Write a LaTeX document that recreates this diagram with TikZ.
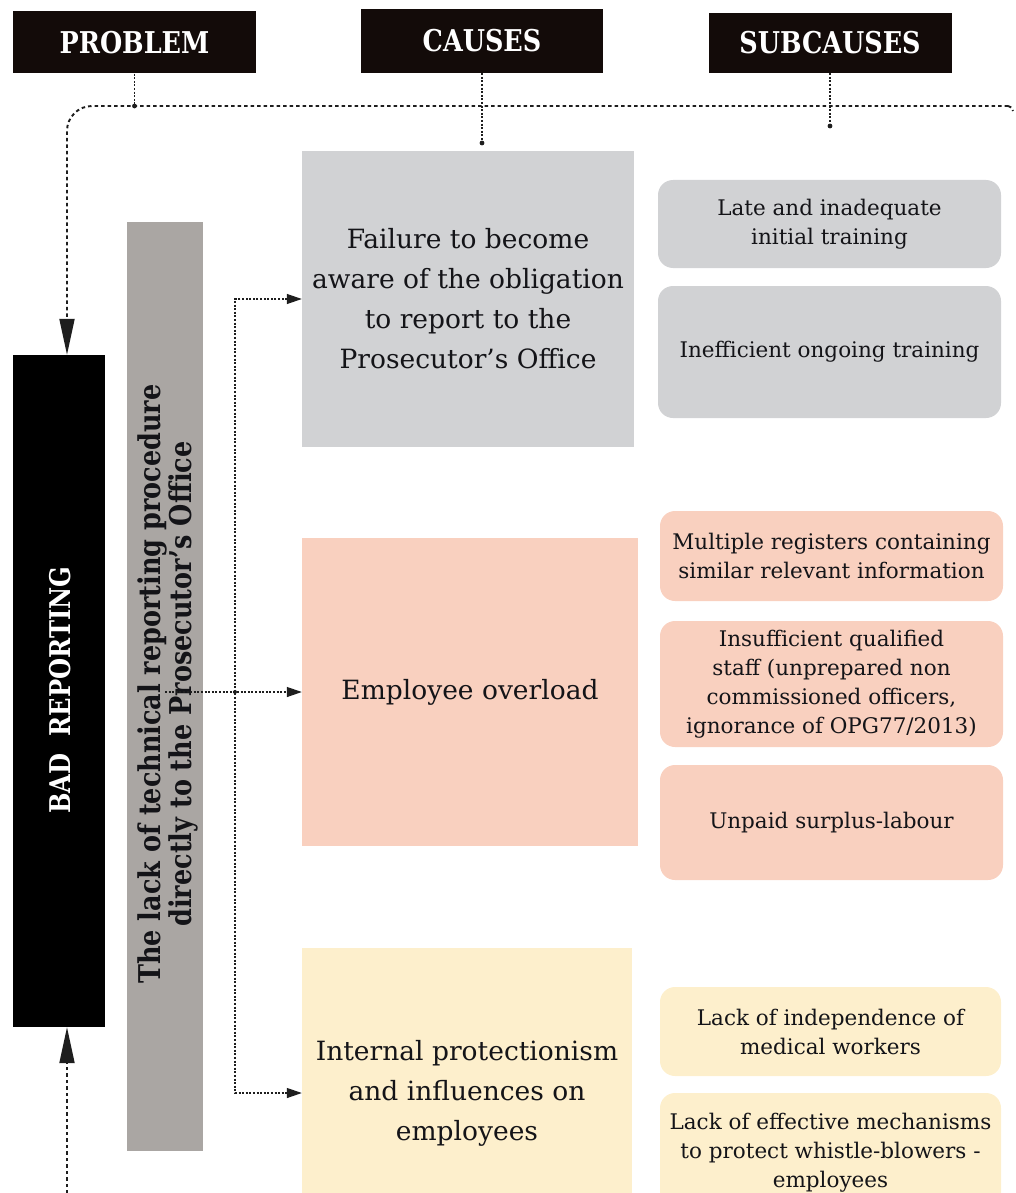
\documentclass[tikz,border=0pt]{standalone}
\usepackage{fontspec}
\setmainfont{DejaVu Serif}
\newfontfamily\hdr{DejaVu Serif}[FakeStretch=0.85]
\usetikzlibrary{arrows.meta}
\definecolor{hdrblack}{HTML}{130B09}
\definecolor{causegray}{HTML}{D1D2D4}
\definecolor{salmonc}{HTML}{F9D0BF}
\definecolor{yellowc}{HTML}{FDEFCC}
\definecolor{lackgray}{HTML}{AAA6A3}
\definecolor{txt}{HTML}{141418}
\definecolor{linec}{HTML}{1E1E1E}
\tikzset{
  smalltip/.tip={Triangle[length=15pt,width=10pt]},
  bigtip/.tip={Triangle[length=36pt,width=15pt]},
}
\begin{document}
\begin{tikzpicture}[x=1pt,y=-1pt,
  hbox/.style={fill=hdrblack,text=white,inner sep=0pt,font=\hdr\bfseries\fontsize{30}{30}\selectfont},
  causebox/.style={inner sep=0pt,text=txt,align=center,font=\fontsize{26.5}{40}\selectfont},
  subbox/.style={inner sep=0pt,rounded corners=15pt,text=txt,align=center,font=\fontsize{21.5}{29}\selectfont},
  dl/.style={linec,line width=1.9pt,dash pattern=on 3.5pt off 3pt},
  cl/.style={linec,line width=1.2pt,dash pattern=on 2pt off 1.6pt},
]
\useasboundingbox (0,0) rectangle (1015,1193);
\clip (0,0) rectangle (1015,1193);

% headers
\node[hbox,minimum width=243pt,minimum height=62pt] (problem) at (134.5,42.5) {PROBLEM};
\node[hbox,minimum width=242pt,minimum height=64pt] (causes) at (482,41) {CAUSES};
\node[hbox,minimum width=243pt,minimum height=60pt] (subc) at (830,43) {SUBCAUSES};

% problem column
\node[fill=black,minimum width=92pt,minimum height=672pt,inner sep=0pt] (bad) at (59,691) {};
\node[rotate=90,text=white,font=\hdr\bfseries\fontsize{28.5}{30}\selectfont] (badtxt) at (60,690) {BAD\ \ REPORTING};

\node[fill=lackgray,minimum width=76pt,minimum height=929pt,inner sep=0pt] (lack) at (165,686.5) {};
\node[rotate=90,text=txt,align=center,font=\hdr\bfseries\fontsize{30}{30.5}\selectfont] (lacktxt) at (168,684)
  {The lack of technical reporting procedure\\directly to the Prosecutor’s Office};

% causes
\node[causebox,fill=causegray,minimum width=332pt,minimum height=296pt] (fail) at (468,299)
  {Failure to become\\aware of the obligation\\to report to the\\Prosecutor’s Office};
\node[causebox,fill=salmonc,minimum width=336pt,minimum height=308pt] (over) at (470,692)
  {Employee overload};
\node[causebox,fill=yellowc,minimum width=330pt,minimum height=290pt] (intp) at (467,1093)
  {Internal protectionism\\and influences on\\employees};

% subcauses
\node[subbox,fill=causegray,minimum width=343pt,minimum height=88pt] (s1) at (829.5,224)
  {Late and inadequate\\initial training};
\node[subbox,fill=causegray,minimum width=343pt,minimum height=132pt] (s2) at (829.5,352)
  {Inefficient ongoing training};
\node[subbox,fill=salmonc,minimum width=343pt,minimum height=90pt] (s3) at (831.5,556)
  {Multiple registers containing\\similar relevant information};
\node[subbox,fill=salmonc,minimum width=343pt,minimum height=126pt] (s4) at (831.5,684)
  {Insufficient qualified\\staff (unprepared non\\commissioned officers,\\ignorance of OPG77/2013)};
\node[subbox,fill=salmonc,minimum width=343pt,minimum height=115pt] (s5) at (831.5,822.5)
  {Unpaid surplus-labour};
\node[subbox,fill=yellowc,minimum width=341pt,minimum height=89pt] (s6) at (830.5,1031.5)
  {Lack of independence of\\medical workers};
\node[subbox,fill=yellowc,minimum width=341pt,minimum height=120pt] (s7) at (830.5,1153)
  {Lack of effective mechanisms\\to protect whistle-blowers -\\employees};

% coordinates
\coordinate (top) at (0,106);
\coordinate (lx) at (67,0);
\coordinate (rx) at (1008,106);
\coordinate (rend) at (1013,111);
\coordinate (bl) at (67,1200);
\coordinate (cend) at (482,143);
\coordinate (send) at (830,126);
\coordinate (jx) at (235,0);

% top frame line and problem arrows
\draw[dl,rounded corners=25pt,-bigtip] (rx) -- (lx |- top) -- (bad.north -| lx);
\draw[dl] (rx) to[out=0,in=100] (rend);
\draw[dl,-bigtip] (bl) -- (bad.south -| lx);
\draw[cl] (problem.south) -- (problem.south |- top);
\fill[linec] (problem.south |- top) circle (2.4pt);
\draw[cl] (causes.south) -- (cend);
\fill[linec] (cend) circle (2.4pt);
\draw[cl] (subc.south) -- (send);
\fill[linec] (send) circle (2.4pt);

% connectors from lack to causes
\draw[cl,-smalltip] (lack.center |- over.west) -- (over.west);
\draw[cl,smalltip-smalltip] (fail.west) -- (jx |- fail.west) -- (jx |- intp.west) -- (intp.west);
\fill[linec] (jx |- over.west) circle (2pt);
\end{tikzpicture}
\end{document}
